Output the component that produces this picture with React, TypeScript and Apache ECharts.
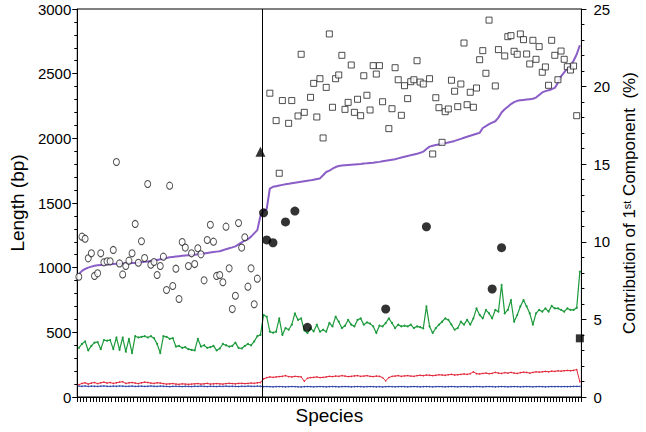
import React, { useEffect, useRef } from "react";
import * as echarts from "echarts";

// ---------- DATA ----------
const speciesCount = 161;
const species: string[] = Array.from({ length: speciesCount }, (_, i) => String(i + 1));
const groupBoundary = 59; // first species of the second group

// sorted length (purple)
const sortedLength: number[] = [
  950, 975, 990, 1000, 1008, 1015, 1018, 1020, 1022, 1024,
  1026, 1028, 1030, 1031, 1032, 1034, 1035, 1036, 1037, 1039,
  1042, 1045, 1048, 1052, 1055, 1060, 1065, 1070, 1075, 1080,
  1083, 1086, 1089, 1092, 1094, 1096, 1098, 1100, 1103, 1106,
  1110, 1114, 1118, 1121, 1124, 1127, 1135, 1143, 1150, 1157,
  1165, 1180, 1195, 1210, 1220, 1240, 1265, 1290, 1400,
  1440, 1455, 1612, 1625, 1630, 1635, 1640, 1645, 1648, 1652,
  1656, 1660, 1664, 1668, 1672, 1675, 1680, 1685, 1690, 1715,
  1740, 1750, 1765, 1778, 1786, 1790, 1792, 1794, 1796, 1798,
  1800, 1802, 1805, 1807, 1810, 1812, 1815, 1818, 1822, 1826,
  1830, 1834, 1838, 1845, 1852, 1858, 1864, 1870, 1875, 1880,
  1888, 1897, 1918, 1936, 1942, 1948, 1953, 1958, 1963, 1968,
  1973, 1980, 1988, 1996, 2004, 2012, 2020, 2028, 2035, 2042,
  2080, 2095, 2110, 2122, 2132, 2160, 2200, 2225, 2245, 2265,
  2280, 2290, 2294, 2297, 2300, 2303, 2306, 2315, 2335, 2355,
  2365, 2372, 2380, 2390, 2430, 2480, 2510, 2540, 2560, 2600,
  2650, 2720,
];

// green line
const greenLength: number[] = [
  380, 410, 430, 360, 395, 420, 425, 370, 440, 435,
  440, 370, 460, 365, 460, 350, 450, 340, 470, 460,
  465, 470, 460, 470, 455, 410, 340, 470, 465, 450,
  455, 390, 395, 380, 385, 370, 365, 360, 450, 390,
  400, 380, 385, 395, 360, 375, 410, 400, 390, 395,
  420, 380, 375, 395, 410, 400, 430, 470, 480,
  634, 621, 505, 497, 505, 608, 480, 533, 520, 559,
  647, 596, 608, 515, 495, 533, 508, 559, 505, 520,
  505, 572, 546, 621, 582, 533, 551, 596, 559, 546,
  596, 608, 559, 577, 567, 546, 495, 551, 546, 572,
  608, 572, 533, 559, 546, 551, 546, 559, 533, 546,
  540, 530, 700, 546, 495, 533, 559, 582, 608, 596,
  559, 520, 533, 582, 559, 596, 559, 608, 685, 634,
  608, 673, 647, 608, 673, 660, 866, 647, 673, 750,
  582, 634, 700, 750, 700, 647, 559, 647, 673, 660,
  685, 660, 704, 685, 685, 673, 660, 685, 673, 673,
  690, 970,
];

// red line
const redLength: number[] = [
  95, 105, 110, 100, 108, 112, 104, 110, 115, 108,
  112, 105, 110, 115, 118, 105, 110, 112, 108, 104,
  110, 115, 112, 108, 105, 110, 108, 104, 100, 102,
  104, 100, 98, 102, 100, 98, 100, 102, 104, 100,
  102, 105, 100, 102, 104, 102, 100, 104, 106, 104,
  102, 105, 106, 104, 105, 108, 106, 110, 112,
  140, 150, 155, 152, 155, 158, 160, 165, 158, 155,
  160, 158, 155, 122, 145, 150, 152, 155, 150, 152,
  155, 160, 158, 162, 160, 165, 162, 158, 160, 163,
  165, 160, 162, 165, 160, 158, 162, 160, 150, 125,
  150, 160, 162, 165, 160, 163, 165, 162, 160, 165,
  168, 165, 170, 168, 165, 168, 172, 170, 168, 172,
  175, 170, 172, 175, 178, 175, 180, 195, 180, 178,
  182, 185, 180, 183, 190, 185, 182, 188, 185, 190,
  185, 182, 188, 192, 190, 185, 190, 195, 192, 195,
  198, 195, 200, 198, 202, 200, 203, 205, 203, 206,
  212, 118,
];

// blue line
const blueLength: number[] = [
  84, 83, 85, 82, 84, 83, 82, 84, 85, 83,
  82, 84, 83, 85, 84, 82, 83, 84, 82, 83,
  84, 82, 83, 85, 83, 82, 84, 83, 82, 80,
  82, 83, 82, 81, 83, 82, 81, 83, 82, 84,
  82, 81, 83, 82, 81, 83, 82, 84, 82, 83,
  82, 81, 83, 82, 84, 83, 82, 84, 83,
  80, 81, 80, 79, 80, 81, 80, 79, 80, 81,
  80, 79, 78, 80, 81, 80, 79, 80, 81, 80,
  79, 80, 81, 80, 79, 80, 81, 80, 79, 80,
  81, 80, 79, 80, 81, 80, 79, 80, 78, 80,
  81, 80, 79, 80, 81, 80, 79, 80, 81, 80,
  79, 80, 81, 80, 79, 80, 81, 80, 79, 80,
  81, 80, 79, 80, 81, 80, 79, 80, 81, 80,
  79, 80, 81, 80, 79, 80, 81, 80, 79, 80,
  81, 80, 79, 80, 81, 80, 79, 80, 81, 80,
  79, 80, 81, 80, 81, 80, 81, 80, 81, 82,
  82, 82,
];

// open circles (first group, species 1..58)
const openCircleLength: number[] = [
  930, 1240, 1224, 1072, 1111, 936, 956, 1111, 1041, 1049,
  1049, 1137, 1817, 1033, 948, 1013, 1054, 1111, 1338, 1038,
  1204, 1075, 1647, 1023, 1044, 943, 1013, 1085, 827, 1634,
  858, 992, 758, 1198, 1155, 1013, 1111, 1028, 1150, 1103,
  902, 1214, 1332, 1201, 936, 943, 887, 1317, 995, 680,
  783, 1345, 1155, 1235, 853, 995, 717, 915,
];

// open squares (second group): species index and length
const openSquareIndex: number[] = [
  61, 63, 64, 65, 67, 68, 70, 71, 72, 74,
  75, 76, 77, 78, 79, 80, 81, 82, 83, 84,
  85, 86, 87, 88, 89, 90, 91, 92, 93, 94,
  95, 96, 97, 99, 100, 101, 102, 103, 104, 105,
  106, 107, 108, 109, 110, 112, 113, 114, 115, 116,
  117, 118, 119, 120, 121, 122, 123, 124, 125, 126,
  127, 128, 129, 130, 131, 133, 134, 136, 137, 138,
  139, 140, 141, 142, 143, 144, 145, 146, 147, 148,
  149, 150, 151, 152, 153, 154, 155, 156, 157, 158,
  159,
];
const openSquareLength: number[] = [
  2349, 2137, 1730, 2292, 2116, 2292, 2173, 2650, 2201, 2317,
  2425, 2165, 2461, 2003, 2394, 2807, 2240, 2461, 2490, 2642,
  2224, 2278, 2567, 2201, 2302, 2175, 2484, 2333, 2219, 2562,
  2497, 2562, 2283, 2075, 2229, 2546, 2453, 2178, 2407, 2307,
  2438, 2453, 2600, 2435, 2420, 2461, 1879, 2314, 2237, 1969,
  2206, 2227, 2449, 2364, 2245, 2420, 2737, 2260, 2356, 2240,
  2389, 2608, 2678, 2503, 2914, 2405, 2686, 2637, 2786, 2794,
  2673, 2650, 2807, 2763, 2652, 2575, 2758, 2611, 2709, 2511,
  2552, 2410, 2758, 2642, 2453, 2675, 2611, 2554, 2528, 2559,
  2175,
];

// filled markers on right axis (contribution %)
const filledCircleIndex: number[] = [59, 60, 62, 66, 69, 73, 98, 111, 132, 135];
const filledCirclePct: number[] = [11.87, 10.12, 9.94, 11.28, 11.98, 4.49, 5.67, 10.97, 6.96, 9.62];
const triangleIndex: number[] = [58];
const trianglePct: number[] = [15.8];
const filledSquareIndex: number[] = [160];
const filledSquarePct: number[] = [3.78];

const FONT = "Liberation Sans, Arial, Helvetica, sans-serif";

export default function App() {
  const ref = useRef<HTMLDivElement>(null);

  useEffect(() => {
    if (!ref.current) return;
    const chart = echarts.init(ref.current, undefined, { renderer: "svg" });

    const pairs = (idx: number[], vals: number[]) => idx.map((x, i) => [x, vals[i]]);

    const option: any = {
      animation: false,
      backgroundColor: "#fff",
      grid: {
        left: 68,
        right: 61,
        top: 9,
        bottom: 35,
        show: true,
        borderColor: "#000",
        borderWidth: 1,
        backgroundColor: "transparent",
      },
      xAxis: [
        {
          type: "category",
          data: species,
          boundaryGap: true,
          name: "Species",
          nameLocation: "middle",
          nameGap: 9,
          nameTextStyle: { fontSize: 19, color: "#000", fontFamily: FONT, verticalAlign: "top" },
          axisLine: { show: true, lineStyle: { color: "#000", width: 1 } },
          axisTick: { show: true, interval: 0, length: 5, lineStyle: { color: "#000", width: 1 } },
          axisLabel: { show: false },
          splitLine: { show: false },
        },
        {
          type: "value",
          min: 0,
          max: speciesCount,
          show: false,
          position: "bottom",
        },
      ],
      yAxis: [
        {
          type: "value",
          min: 0,
          max: 3000,
          interval: 500,
          position: "left",
          name: "Length (bp)",
          nameLocation: "middle",
          nameGap: 42,
          nameTextStyle: { fontSize: 19, color: "#000", fontFamily: FONT },
          axisLine: { show: true, lineStyle: { color: "#000", width: 1 } },
          axisTick: { show: true, length: 5, lineStyle: { color: "#000" } },
          minorTick: { show: true, splitNumber: 5, length: 3, lineStyle: { color: "#000" } },
          axisLabel: {
            fontSize: 15,
            color: "#000",
            fontFamily: FONT,
            margin: 6,
            formatter: (v: number) => String(v),
          },
          splitLine: { show: false },
        },
        {
          type: "value",
          min: 0,
          max: 25,
          interval: 5,
          position: "right",
          name: "Contribution of 1{sup|st} Component  (%)",
          nameLocation: "middle",
          nameGap: 36,
          nameTextStyle: {
            fontSize: 17,
            color: "#000",
            fontFamily: FONT,
            rich: {
              sup: { fontSize: 11, color: "#000", fontFamily: FONT, verticalAlign: "top", padding: [0, 0, 6, 0] },
            },
          },
          axisLine: { show: true, lineStyle: { color: "#000", width: 1 } },
          axisTick: { show: true, length: 5, lineStyle: { color: "#000" } },
          minorTick: { show: true, splitNumber: 5, length: 3, lineStyle: { color: "#000" } },
          axisLabel: { fontSize: 15, color: "#000", fontFamily: FONT, margin: 12 },
          splitLine: { show: false },
        },
      ],
      series: [
        {
          name: "divider",
          type: "line",
          xAxisIndex: 1,
          yAxisIndex: 0,
          data: [],
          silent: true,
          markLine: {
            silent: true,
            symbol: "none",
            label: { show: false },
            lineStyle: { color: "#000", width: 1, type: "solid" },
            data: [{ xAxis: groupBoundary }],
          },
        },
        {
          name: "blue",
          type: "line",
          data: blueLength,
          yAxisIndex: 0,
          symbol: "circle",
          symbolSize: 1.5,
          lineStyle: { color: "#2f46a8", width: 1 },
          itemStyle: { color: "#2f46a8" },
          z: 2,
        },
        {
          name: "red",
          type: "line",
          data: redLength,
          yAxisIndex: 0,
          symbol: "circle",
          symbolSize: 1.5,
          lineStyle: { color: "#e3283a", width: 1 },
          itemStyle: { color: "#e3283a" },
          z: 2,
        },
        {
          name: "green",
          type: "line",
          data: greenLength,
          yAxisIndex: 0,
          symbol: "circle",
          symbolSize: 2,
          lineStyle: { color: "#1c9a3c", width: 1.2 },
          itemStyle: { color: "#1c9a3c" },
          z: 2,
        },
        {
          name: "purple",
          type: "line",
          data: sortedLength,
          yAxisIndex: 0,
          showSymbol: false,
          symbol: "none",
          lineStyle: { color: "#8a5ec6", width: 2 },
          z: 2,
        },
        {
          name: "open circles",
          type: "scatter",
          yAxisIndex: 0,
          data: openCircleLength.map((v, i) => [i, v]),
          symbol: "circle",
          symbolSize: [6, 7],
          itemStyle: { color: "#fff", borderColor: "#222", borderWidth: 1 },
          z: 3,
        },
        {
          name: "open squares",
          type: "scatter",
          yAxisIndex: 0,
          data: pairs(openSquareIndex, openSquareLength),
          symbol: "rect",
          symbolSize: 6,
          itemStyle: { color: "#fff", borderColor: "#222", borderWidth: 1 },
          z: 3,
        },
        {
          name: "filled circles",
          type: "scatter",
          yAxisIndex: 1,
          data: pairs(filledCircleIndex, filledCirclePct),
          symbol: "circle",
          symbolSize: 9,
          itemStyle: { color: "#000" },
          z: 4,
        },
        {
          name: "triangle",
          type: "scatter",
          yAxisIndex: 1,
          data: pairs(triangleIndex, trianglePct),
          symbol: "triangle",
          symbolSize: 10,
          itemStyle: { color: "#000" },
          z: 4,
        },
        {
          name: "filled square",
          type: "scatter",
          yAxisIndex: 1,
          data: pairs(filledSquareIndex, filledSquarePct),
          symbol: "rect",
          symbolSize: 8,
          itemStyle: { color: "#000" },
          z: 4,
        },
      ],
    };

    chart.setOption(option);
    return () => chart.dispose();
  }, []);

  return (
    <div
      ref={ref}
      style={{ position: "fixed", left: 0, top: 0, width: 646, height: 432, background: "#fff" }}
    />
  );
}
